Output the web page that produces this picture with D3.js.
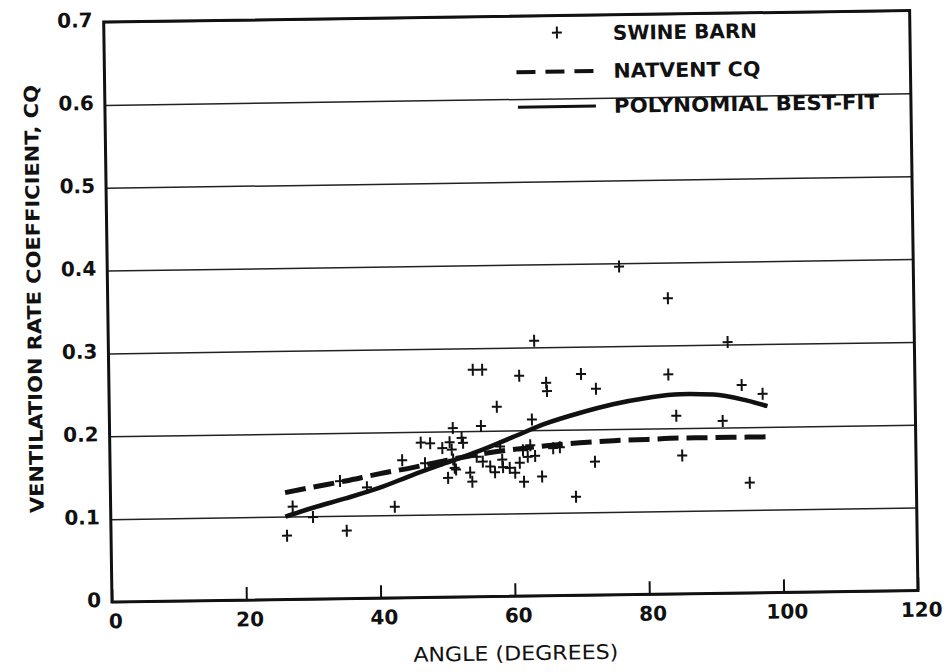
<!DOCTYPE html>
<html lang="en">
<head>
<meta charset="UTF-8">
<title>Ventilation rate coefficient vs angle</title>
<script src="https://d3js.org/d3.v7.min.js"></script>
<style>
    body{ margin:0; background:#fff; }
    text{ fill:#111; }
    .grid line{ stroke:#222; stroke-width:1.5px; }
    .frame{ fill:none; stroke:#111; stroke-width:3px; }
    path.natvent{ fill:none; stroke:#111; stroke-width:5px; stroke-dasharray:21,8; }
    path.poly{ fill:none; stroke:#111; stroke-width:4.5px; }
    path.barn{ fill:none; stroke:#111; stroke-width:2px; }
</style>
</head>
<body>
<svg width="950" height="672"></svg>
<script>
// curves
const curveAngle = [26, 30, 35, 40, 45, 50, 55, 60, 65, 70, 75, 80, 85, 90, 95, 98];
const natventCQ  = [0.129, 0.135, 0.142, 0.150, 0.157, 0.165, 0.172, 0.177, 0.181, 0.184, 0.186, 0.187, 0.188, 0.188, 0.188, 0.188];
const polyFit    = [0.100, 0.110, 0.121, 0.133, 0.148, 0.162, 0.176, 0.192, 0.208, 0.220, 0.230, 0.237, 0.241, 0.240, 0.232, 0.225];

// swine barn measurements
const barnAngle = [76.2, 83.4, 63.4, 92.2, 61.1, 65.1, 65.2, 70.3, 72.5, 83.3, 94.2, 97.3, 62.9, 84.4, 91.3,
    72.2, 85.2, 95.2, 64.3, 61.6, 69.3, 67.0, 54.2, 55.6, 57.7, 51.1, 55.3, 46.3, 47.7, 49.5,
    50.6, 50.9, 52.4, 43.5, 46.9, 51.3, 50.3, 53.6, 53.9, 38.2, 34.2, 27.1, 30.1, 26.2, 35.1,
    42.3, 58.1, 54.6, 55.5, 56.6, 57.3, 58.5, 59.5, 60.3, 61.0, 61.5, 62.2, 63.3, 58.4, 51.1,
    51.5, 52.6, 62.6, 66.0];
const barnCQ = [0.396, 0.357, 0.308, 0.303, 0.266, 0.257, 0.247, 0.267, 0.249, 0.265, 0.251, 0.240, 0.213, 0.215, 0.208,
    0.161, 0.167, 0.133, 0.144, 0.138, 0.119, 0.179, 0.274, 0.274, 0.229, 0.204, 0.206, 0.187, 0.186, 0.180,
    0.187, 0.178, 0.192, 0.166, 0.162, 0.156, 0.144, 0.150, 0.139, 0.134, 0.142, 0.112, 0.099, 0.077, 0.082,
    0.110, 0.181, 0.169, 0.163, 0.157, 0.150, 0.156, 0.155, 0.149, 0.161, 0.176, 0.168, 0.169, 0.165, 0.166,
    0.154, 0.186, 0.182, 0.178];

const xTicks = [0, 20, 40, 60, 80, 100, 120];
const yTicks = [0, 0.1, 0.2, 0.3, 0.4, 0.5, 0.6, 0.7];
const legendLabels = ["SWINE BARN", "NATVENT CQ", "POLYNOMIAL BEST-FIT"];

let svg = d3.select('svg');
let box = {left:112, right:918, top:22, bottom:602};

// the scanned figure sits slightly tilted
let fig = svg.append('g').attr('transform', `rotate(-0.82, ${box.left}, ${box.bottom})`);

let xScale = d3.scaleLinear().domain([0, 120]).range([box.left, box.right]);
let yScale = d3.scaleLinear().domain([0, 0.7]).range([box.bottom, box.top]);

// horizontal grid + y labels
let yAxis = fig.append('g').attr('class', 'grid')
    .attr('transform', `translate(${box.left},0)`)
    .call(d3.axisLeft(yScale).tickValues(yTicks).tickSize(-(box.right - box.left)).tickPadding(11)
        .tickFormat(d => d === 0 ? '0' : d3.format('.1f')(d)));
yAxis.select('.domain').remove();
yAxis.selectAll('text').attr('y', -2)
    .style('font-family', 'DejaVu Sans').style('font-weight', 'bold').style('font-size', '20px');

// x ticks + labels
let xAxis = fig.append('g')
    .attr('transform', `translate(0,${box.bottom})`)
    .call(d3.axisBottom(xScale).tickValues(xTicks).tickSize(-13).tickPadding(12).tickFormat(d3.format('d')));
xAxis.select('.domain').remove();
xAxis.selectAll('line').attr('stroke', '#111').attr('stroke-width', 2);
xAxis.selectAll('text').attr('dx', 3)
    .style('font-family', 'DejaVu Sans').style('font-weight', 'bold').style('font-size', '20px');

// frame
fig.append('rect').attr('class', 'frame')
    .attr('x', box.left).attr('y', box.top)
    .attr('width', box.right - box.left).attr('height', box.bottom - box.top);

// curves
let curveData = curveAngle.map((a, i) => ({a: a, n: natventCQ[i], p: polyFit[i]}));
let natLine = d3.line().curve(d3.curveMonotoneX).x(d => xScale(d.a)).y(d => yScale(d.n));
let polyLine = d3.line().curve(d3.curveMonotoneX).x(d => xScale(d.a)).y(d => yScale(d.p));
fig.append('path').attr('class', 'natvent').attr('d', natLine(curveData));
fig.append('path').attr('class', 'poly').attr('d', polyLine(curveData));

// points
const plus = 'M-5,0H5M0,-6V6';
fig.selectAll('path.barn').data(barnAngle.map((a, i) => [a, barnCQ[i]]))
    .join('path').attr('class', 'barn')
    .attr('transform', d => `translate(${xScale(d[0])},${yScale(d[1])})`)
    .attr('d', plus);

// legend
let leg = fig.append('g').attr('transform', 'translate(524,0)');
leg.append('path').attr('class', 'barn').attr('transform', 'translate(41,39)').attr('d', plus);
leg.append('line').attr('x1', 0).attr('x2', 78).attr('y1', 78).attr('y2', 78)
    .attr('stroke', '#111').attr('stroke-width', 4).attr('stroke-dasharray', '19,10');
leg.append('line').attr('x1', 1).attr('x2', 79).attr('y1', 113).attr('y2', 113)
    .attr('stroke', '#111').attr('stroke-width', 3);
let legLen = [144, 147, 265];
leg.selectAll('text.leg').data(legendLabels).join('text').attr('class', 'leg')
    .attr('x', 97).attr('y', (d, i) => [47, 85, 120][i])
    .attr('textLength', (d, i) => legLen[i]).attr('lengthAdjust', 'spacingAndGlyphs')
    .style('font-family', 'DejaVu Sans').style('font-size', '20px').style('font-weight', 'bold')
    .text(d => d);

// axis titles
fig.append('text').attr('x', 515).attr('y', 666).attr('text-anchor', 'middle')
    .attr('textLength', 205).attr('lengthAdjust', 'spacingAndGlyphs')
    .style('font-family', 'DejaVu Sans').style('font-size', '20px')
    .text('ANGLE (DEGREES)');
fig.append('text').attr('transform', 'translate(45,298) rotate(-90)').attr('text-anchor', 'middle')
    .attr('textLength', 428).attr('lengthAdjust', 'spacingAndGlyphs')
    .style('font-family', 'DejaVu Sans').style('font-size', '19px').style('font-weight', 'bold')
    .text('VENTILATION RATE COEFFICIENT, CQ');
</script>
</body>
</html>
